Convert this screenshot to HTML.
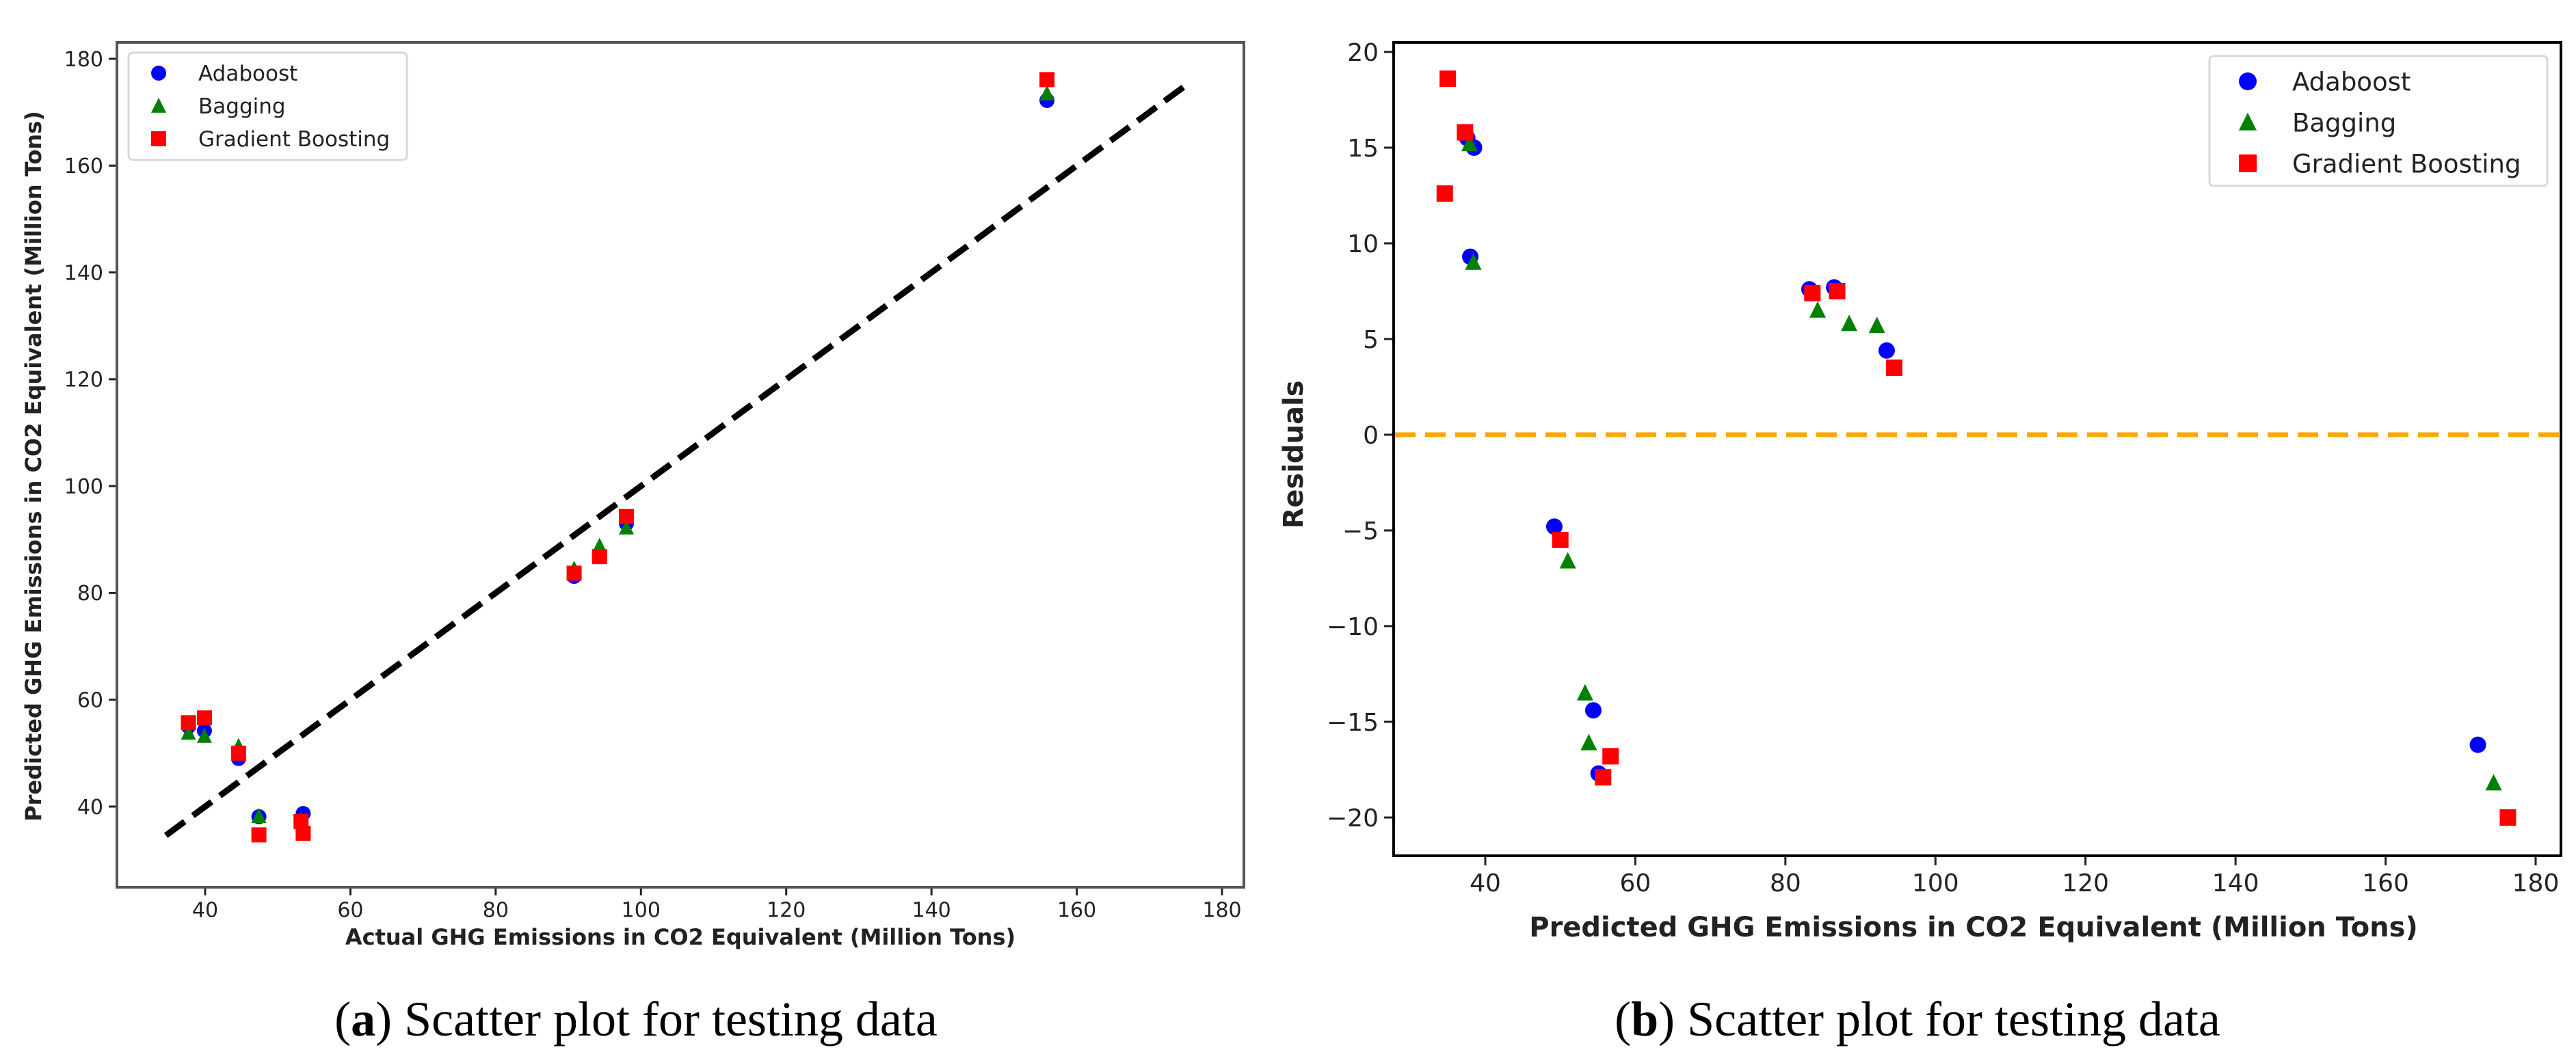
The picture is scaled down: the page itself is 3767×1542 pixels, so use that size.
<!DOCTYPE html>
<html><head><meta charset="utf-8"><style>
html,body{margin:0;padding:0;background:#fff;}
svg{display:block;}
text{font-family:"DejaVu Sans","Liberation Sans",sans-serif;fill:#222;}
.cap{font-family:"Liberation Serif",serif;fill:#000;}
</style></head><body>
<svg id="fig" width="3767" height="1542" viewBox="0 0 3767 1542" xmlns="http://www.w3.org/2000/svg">
<g id="chartA"></g>
<g id="chartB"></g>
<text class="cap" x="930" y="1515" font-size="72" text-anchor="middle">(<tspan font-weight="bold">a</tspan>) Scatter plot for testing data</text>
<text class="cap" x="2804" y="1515" font-size="72" text-anchor="middle">(<tspan font-weight="bold">b</tspan>) Scatter plot for testing data</text>
</svg>
<script>
// Chart A data: actual vs predicted
const aTicksX = [40,60,80,100,120,140,160,180];
const aTicksY = [40,60,80,100,120,140,160,180];
const aAdaX = [37.7,39.9,44.6,47.4,53.5,90.8,94.3,98.0,155.9];
const aAdaY = [55.0,54.2,49.0,38.1,38.7,83.1,86.8,93.0,172.2];
const aBagX = [37.7,39.9,44.6,47.4,53.2,90.8,94.3,98.0,155.9];
const aBagY = [53.8,53.2,51.3,38.2,37.5,84.5,88.8,92.2,173.5];
const aGbX = [37.7,39.9,44.6,47.4,53.2,53.5,90.8,94.3,98.0,155.9];
const aGbY = [55.7,56.6,50.0,34.7,37.2,35.0,83.7,86.8,94.3,176.1];
const aLine = [34.6,175.7];
// Chart B data: predicted vs residuals
const bTicksX = [40,60,80,100,120,140,160,180];
const bTicksY = [20,15,10,5,0,-5,-10,-15,-20];
const bAdaX = [37.6,38.5,38.0,83.2,86.5,93.5,49.2,54.4,55.1,172.3];
const bAdaY = [15.5,15.0,9.3,7.6,7.7,4.4,-4.8,-14.4,-17.7,-16.2];
const bBagX = [37.9,38.4,84.3,88.5,92.2,51.0,53.3,53.8,174.4];
const bBagY = [15.2,9.0,6.5,5.8,5.7,-6.6,-13.5,-16.1,-18.2];
const bGbX = [35.0,37.3,34.6,83.6,86.9,94.5,50.0,56.7,55.7,176.3];
const bGbY = [18.6,15.8,12.6,7.4,7.5,3.5,-5.5,-16.8,-17.9,-20.0];

const NS='http://www.w3.org/2000/svg';
function mk(parent,tag,attrs){const e=document.createElementNS(NS,tag);for(const k in attrs)e.setAttribute(k,attrs[k]);parent.appendChild(e);return e;}
function marker(g,kind,x,y,s){
  let e;
  if(kind==='ada'){e=mk(g,'circle',{cx:x,cy:y,r:s/2,fill:'#0000ff'});}
  else if(kind==='bag'){e=mk(g,'polygon',{points:`${x},${y-s*0.55} ${x-s*0.5},${y+s*0.45} ${x+s*0.5},${y+s*0.45}`,fill:'#008000'});}
  else {e=mk(g,'rect',{x:x-s/2,y:y-s/2,width:s,height:s,fill:'#ff0000'});}
  return e;
}
function drawChart(g,cfg){
  const sx=v=>cfg.x0+(v-cfg.vx0)*(cfg.x1-cfg.x0)/(cfg.vx1-cfg.vx0);
  const sy=v=>cfg.y0+(v-cfg.vy0)*(cfg.y1-cfg.y0)/(cfg.vy1-cfg.vy0);
  cfg.tx.forEach(t=>{
    const X=sx(t);
    mk(g,'line',{x1:X,x2:X,y1:cfg.fb,y2:cfg.fb+cfg.tl,stroke:'#222','stroke-width':3});
    const tt=mk(g,'text',{x:X,y:cfg.fb+cfg.tl+cfg.fs*1.05,'font-size':cfg.fs,'text-anchor':'middle'});
    tt.textContent=String(t);
    
    
  });
  cfg.ty.forEach(t=>{
    const Y=sy(t);
    mk(g,'line',{x1:cfg.fl-cfg.tl,x2:cfg.fl,y1:Y,y2:Y,stroke:'#222','stroke-width':3});
    const tt=mk(g,'text',{x:cfg.fl-cfg.tl-8,y:Y+cfg.fs*0.36,'font-size':cfg.fs,'text-anchor':'end'});
    tt.textContent=String(t).replace('-','\u2212');
    
    
  });
  cfg.extra(g,sx,sy);
  cfg.series.forEach(s=>{
    s.xs.forEach((v,i)=>{
      const m=marker(g,s.kind,sx(v),sy(s.ys[i]),cfg.ms);
      
      
    });
  });
  const fr=mk(g,'rect',{x:cfg.fl,y:cfg.ft,width:cfg.fr-cfg.fl,height:cfg.fb-cfg.ft,fill:'none',stroke:cfg.fc,'stroke-width':cfg.fw});
  
  
  const L=cfg.leg;
  const lg=mk(g,'g',{});
  
  
  mk(lg,'rect',{x:L.x,y:L.y,width:L.w,height:L.h,rx:6,fill:'#fff',stroke:'#d8d8d8','stroke-width':3});
  const names=['Adaboost','Bagging','Gradient Boosting'];const kinds=['ada','bag','gb'];
  names.forEach((n,i)=>{
    const yy=L.y+L.r0+i*L.dy;
    marker(lg,kinds[i],L.mx,yy,L.ms);
    const t=mk(lg,'text',{x:L.tx,y:yy+L.fs*0.36,'font-size':L.fs});
    t.textContent=n;
    
    
  });
}
drawChart(document.getElementById('chartA'),{
  x0:300,x1:1787,vx0:40,vx1:180,y0:1180,y1:86,vy0:40,vy1:180,
  fl:171,fr:1819,ft:62,fb:1298,fc:'#555',fw:4,tl:12,fs:30,ms:22,
  tx:aTicksX,ty:aTicksY,
  series:[{kind:'ada',xs:aAdaX,ys:aAdaY},{kind:'bag',xs:aBagX,ys:aBagY},{kind:'gb',xs:aGbX,ys:aGbY}],
  extra:(g,sx,sy)=>{
    const l=mk(g,'line',{x1:sx(aLine[0]),y1:sy(aLine[0]),x2:sx(aLine[1]),y2:sy(aLine[1]),stroke:'#000','stroke-width':9,'stroke-dasharray':'34 15'});
    
    
  },
  leg:{x:188,y:77,w:407,h:157,r0:30,dy:48,mx:232,ms:22,tx:290,fs:31}
});
drawChart(document.getElementById('chartB'),{
  x0:2172,x1:3708,vx0:40,vx1:180,y0:76,y1:1196,vy0:20,vy1:-20,
  fl:2038,fr:3745,ft:62,fb:1252,fc:'#000',fw:4,tl:14,fs:36,ms:24,
  tx:bTicksX,ty:bTicksY,
  series:[{kind:'ada',xs:bAdaX,ys:bAdaY},{kind:'bag',xs:bBagX,ys:bBagY},{kind:'gb',xs:bGbX,ys:bGbY}],
  extra:(g,sx,sy)=>{
    const l=mk(g,'line',{x1:2040,y1:sy(0),x2:3745,y2:sy(0),stroke:'#ffa500','stroke-width':7,'stroke-dasharray':'30 14'});
    
    
  },
  leg:{x:3231,y:82,w:494,h:190,r0:37,dy:60,mx:3287,ms:26,tx:3352,fs:37}
});
const f=document.getElementById('fig');
let t=mk(f,'text',{x:995,y:1382,'font-size':32,'font-weight':'bold','text-anchor':'middle'});
t.textContent='Actual GHG Emissions in CO2 Equivalent (Million Tons)';


t=mk(f,'text',{x:0,y:0,'font-size':32,'font-weight':'bold','text-anchor':'middle',transform:'translate(60,682) rotate(-90)'});
t.textContent='Predicted GHG Emissions in CO2 Equivalent (Million Tons)';


t=mk(f,'text',{x:2886,y:1370,'font-size':40,'font-weight':'bold','text-anchor':'middle'});
t.textContent='Predicted GHG Emissions in CO2 Equivalent (Million Tons)';


t=mk(f,'text',{x:0,y:0,'font-size':40,'font-weight':'bold','text-anchor':'middle',transform:'translate(1905,665) rotate(-90)'});
t.textContent='Residuals';


</script>
</body></html>
